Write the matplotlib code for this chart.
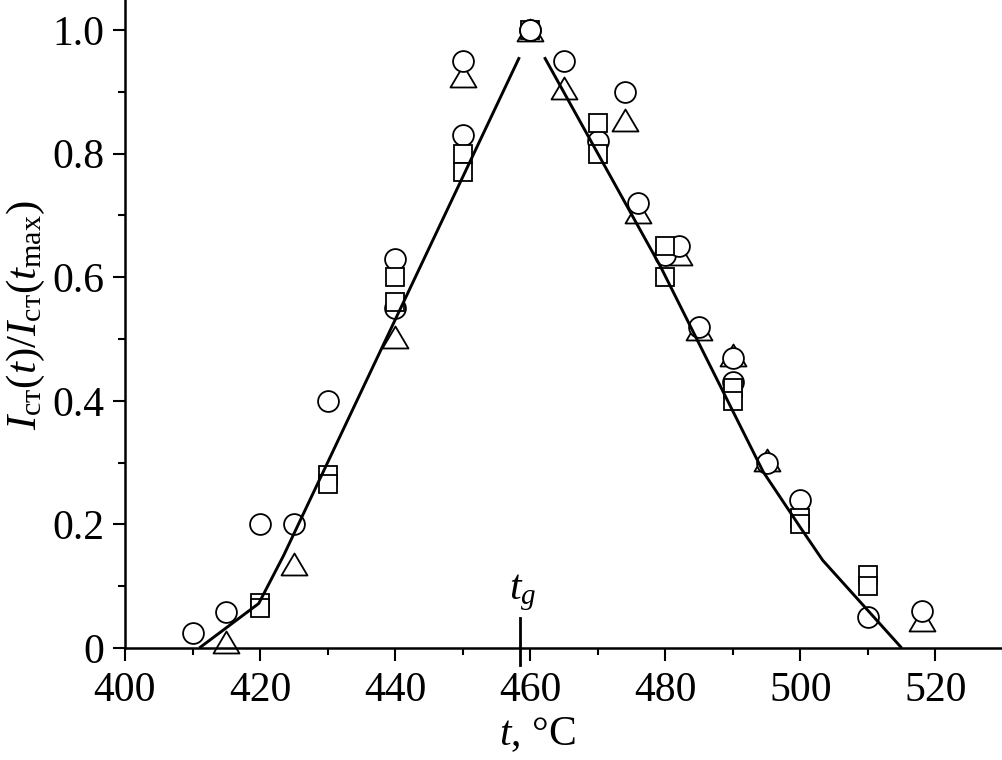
import matplotlib
matplotlib.use("Agg")
import matplotlib.pyplot as plt
from matplotlib.path import Path
from matplotlib.ticker import MultipleLocator
import numpy as np

plt.rcParams['font.family'] = ['Liberation Serif', 'DejaVu Serif']
plt.rcParams['mathtext.fontset'] = 'custom'
plt.rcParams['mathtext.rm'] = 'Liberation Serif'
plt.rcParams['mathtext.it'] = 'Liberation Serif:italic'
plt.rcParams['mathtext.bf'] = 'Liberation Serif:bold'

# --- data ---
circle_t = [410, 415, 420, 425, 430, 440, 440, 450, 450, 460, 465, 470, 474, 476,
            480, 482, 485, 490, 490, 495, 500, 510, 518]
circle_y = [0.024, 0.058, 0.20, 0.20, 0.40, 0.63, 0.55, 0.95, 0.83, 1.0, 0.95, 0.82, 0.90, 0.72,
            0.636, 0.65, 0.52, 0.47, 0.43, 0.30, 0.24, 0.05, 0.06]

square_t = [420, 420, 430, 430, 440, 440, 450, 450, 460, 470, 470, 480, 480, 490, 490,
            500, 500, 510, 510]
square_y = [0.073, 0.065, 0.28, 0.265, 0.60, 0.56, 0.80, 0.77, 1.0, 0.85, 0.80, 0.65, 0.60,
            0.42, 0.40, 0.21, 0.20, 0.118, 0.10]

tri_t = [415, 425, 440, 450, 460, 465, 474, 476, 482, 485, 490, 495, 518]
tri_y = [0.01, 0.136, 0.504, 0.926, 1.0, 0.906, 0.854, 0.706, 0.638, 0.516, 0.474, 0.304, 0.045]

fit_left_t = [411.0, 419.8, 423.5, 458.4]
fit_left_y = [0.0, 0.072, 0.15, 0.956]
fit_right_t = [462.1, 479.3, 494.5, 500.0, 503.3, 515.0]
fit_right_y = [0.956, 0.617, 0.285, 0.195, 0.142, 0.0]

t_g = 458.5
peak_t = [460]
peak_y = [1.0]

x_ticks = [400, 420, 440, 460, 480, 500, 520]
y_ticks = [0, 0.2, 0.4, 0.6, 0.8, 1.0]
y_ticklabels = ['0', '0.2', '0.4', '0.6', '0.8', '1.0']

# --- figure ---
fig = plt.figure(figsize=(10.03, 7.60), dpi=100)
ax = fig.add_axes([125/1003, 112/760, 878/1003, 648/760])

tri_path = Path([(0, 0.846), (-1, -0.846), (1, -0.846), (0, 0.846)],
                [Path.MOVETO, Path.LINETO, Path.LINETO, Path.CLOSEPOLY])

mk = dict(linestyle='none', markerfacecolor='white', markeredgecolor='black',
          markeredgewidth=1.3, clip_on=False)
ax.plot(tri_t, tri_y, marker=tri_path, markersize=18.7, zorder=2, **mk)
ax.plot(circle_t, circle_y, marker='o', markersize=15, zorder=3, **mk)
ax.plot(square_t, square_y, marker='s', markersize=13, zorder=3.5, **mk)
# at the common peak the circle is drawn on top
ax.plot(peak_t, peak_y, marker='o', markersize=15, zorder=3.7, **mk)

ax.plot(fit_left_t, fit_left_y, color='black', lw=2.1, zorder=4, solid_capstyle='butt')
ax.plot(fit_right_t, fit_right_y, color='black', lw=2.1, zorder=4, solid_capstyle='butt')

# t_g marker
ax.plot([t_g, t_g], [0.0485, -0.0275], color='black', lw=2.0, clip_on=False, zorder=5)
ax.text(t_g + 0.4, 0.056, r'$t_g$', fontsize=30, ha='center', va='bottom')

ax.set_xlim(400, 530)
ax.set_ylim(0, 648/618)

for s in ['top', 'right']:
    ax.spines[s].set_visible(False)
for s in ['left', 'bottom']:
    ax.spines[s].set_linewidth(1.8)

ax.set_xticks(x_ticks)
ax.set_yticks(y_ticks)
ax.set_yticklabels(y_ticklabels)
ax.xaxis.set_minor_locator(MultipleLocator(10))
ax.yaxis.set_minor_locator(MultipleLocator(0.1))
ax.tick_params(which='major', direction='out', length=9, width=1.5, labelsize=30, pad=6)
ax.tick_params(axis='x', which='major', pad=8)
ax.tick_params(which='minor', direction='out', length=5, width=1.5)

ax.set_xlabel(r'$t$, °C', fontsize=30)
ax.xaxis.set_label_coords(0.469, -0.104)
ax.set_ylabel(r'$I_{\mathrm{ст}}(t)/I_{\mathrm{ст}}(t_{\mathrm{max}})$', fontsize=31)
ax.yaxis.set_label_coords(-0.089, 0.514)

fig.savefig('out.png', dpi=100)
